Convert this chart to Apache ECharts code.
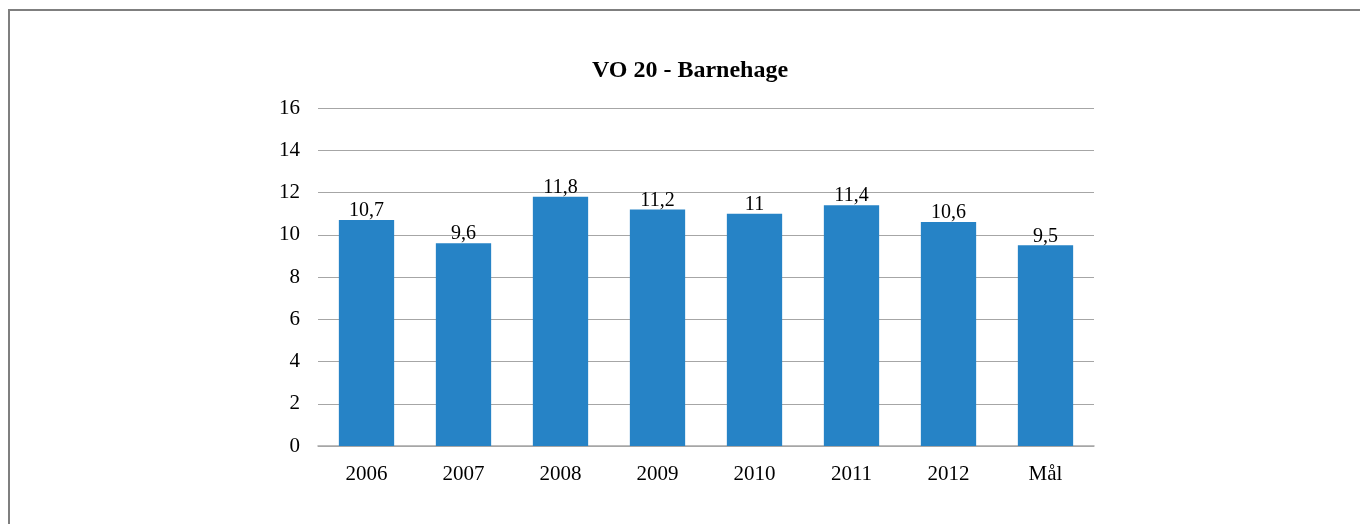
<!DOCTYPE html>
<html>
<head>
<meta charset="utf-8">
<script src="https://cdn.jsdelivr.net/npm/echarts@6/dist/echarts.min.js"></script>
<style>
html, body { margin: 0; padding: 0; background: #fff; }
#main { width: 1360px; height: 524px; }
</style>
</head>
<body>
<div id="main"></div>
<script>
var categories = ['2006', '2007', '2008', '2009', '2010', '2011', '2012', 'Mål'];
var values = [10.7, 9.6, 11.8, 11.2, 11, 11.4, 10.6, 9.5];
var yTicks = [0, 16, 2];

var myChart = echarts.init(document.getElementById('main'));
var font = '"Liberation Serif", "Times New Roman", serif';

option = {
    backgroundColor: '#fff',
    animation: false,
    title: {
        text: 'VO 20 - Barnehage',
        left: 685,
        top: 54,
        textAlign: 'center',
        textStyle: { fontFamily: font, fontSize: 24, fontWeight: 'bold', color: '#000' }
    },
    graphic: [{
        type: 'rect',
        shape: { x: 9, y: 10, width: 1400, height: 600 },
        style: { fill: 'none', stroke: '#7f7f7f', lineWidth: 2 }
    }],
    grid: { left: 318, right: 266, top: 108, bottom: 78 },
    xAxis: {
        type: 'category',
        data: categories,
        axisLine: { lineStyle: { color: '#a6a6a6', width: 1.5 } },
        axisTick: { show: false },
        axisLabel: { fontFamily: font, fontSize: 21, color: '#000', margin: 18 }
    },
    yAxis: {
        type: 'value',
        min: yTicks[0],
        max: yTicks[1],
        interval: yTicks[2],
        axisLine: { show: false },
        axisTick: { show: false },
        axisLabel: { fontFamily: font, fontSize: 21, color: '#000', margin: 18 },
        splitLine: { lineStyle: { color: '#a6a6a6', width: 1 } }
    },
    series: [{
        type: 'bar',
        data: values,
        barWidth: '57%',
        itemStyle: { color: '#2683c6' },
        label: {
            show: true,
            position: 'top',
            distance: -1,
            fontFamily: font,
            fontSize: 20,
            color: '#000',
            formatter: function (p) { return String(p.value).replace('.', ','); }
        }
    }]
};
myChart.setOption(option);
</script>
</body>
</html>
